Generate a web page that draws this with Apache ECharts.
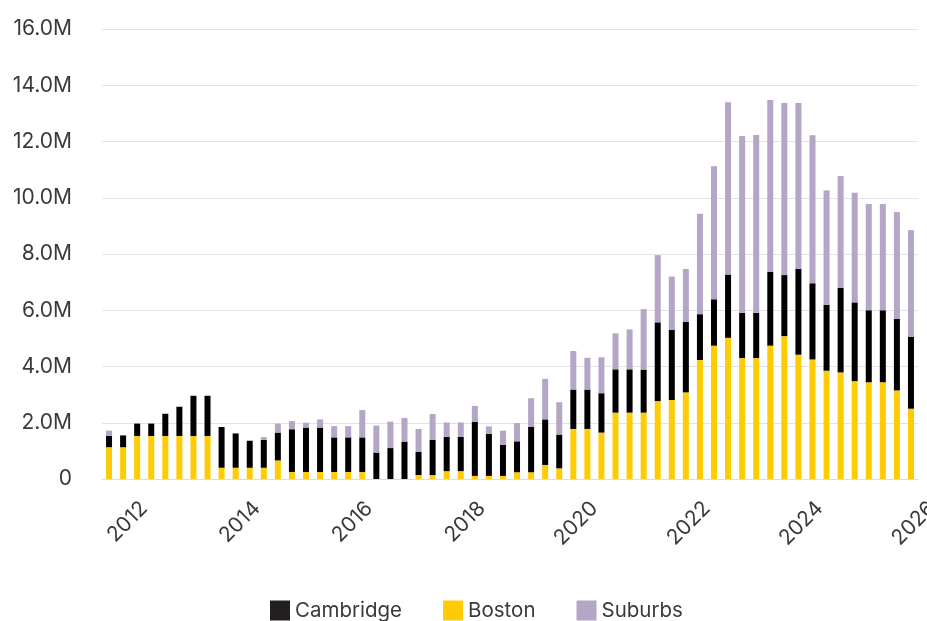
<!DOCTYPE html>
<html>
<head>
<meta charset="utf-8">
<script src="https://cdn.jsdelivr.net/npm/echarts@6/dist/echarts.min.js"></script>
<style>
  html, body { margin: 0; padding: 0; background: #fff; }
  #chart { width: 927px; height: 621px; }
</style>
</head>
<body>
<div id="chart"></div>
<script>
// Quarterly volume (millions) by market, stacked Boston / Cambridge / Suburbs
const quarters = [
  '2011 Q2','2011 Q3','2011 Q4',
  '2012 Q1','2012 Q2','2012 Q3','2012 Q4',
  '2013 Q1','2013 Q2','2013 Q3','2013 Q4',
  '2014 Q1','2014 Q2','2014 Q3','2014 Q4',
  '2015 Q1','2015 Q2','2015 Q3','2015 Q4',
  '2016 Q1','2016 Q2','2016 Q3','2016 Q4',
  '2017 Q1','2017 Q2','2017 Q3','2017 Q4',
  '2018 Q1','2018 Q2','2018 Q3','2018 Q4',
  '2019 Q1','2019 Q2','2019 Q3','2019 Q4',
  '2020 Q1','2020 Q2','2020 Q3','2020 Q4',
  '2021 Q1','2021 Q2','2021 Q3','2021 Q4',
  '2022 Q1','2022 Q2','2022 Q3','2022 Q4',
  '2023 Q1','2023 Q2','2023 Q3','2023 Q4',
  '2024 Q1','2024 Q2','2024 Q3','2024 Q4',
  '2025 Q1','2025 Q2','2025 Q3'
];

const boston = [
  1.13, 1.13, 1.53, 1.53, 1.53, 1.53, 1.53, 1.53, 0.40, 0.40,
  0.40, 0.40, 0.66, 0.25, 0.25, 0.25, 0.25, 0.25, 0.25, 0.00,
  0.00, 0.00, 0.14, 0.14, 0.28, 0.28, 0.11, 0.11, 0.11, 0.24,
  0.24, 0.50, 0.38, 1.78, 1.78, 1.65, 2.36, 2.36, 2.36, 2.77,
  2.81, 3.08, 4.23, 4.74, 5.02, 4.30, 4.30, 4.74, 5.08, 4.42,
  4.25, 3.85, 3.79, 3.48, 3.44, 3.44, 3.15, 2.50
];

const cambridge = [
  0.40, 0.42, 0.44, 0.44, 0.79, 1.04, 1.43, 1.43, 1.45, 1.22,
  0.96, 0.99, 0.99, 1.52, 1.58, 1.58, 1.23, 1.23, 1.23, 0.94,
  1.10, 1.33, 0.83, 1.25, 1.22, 1.22, 1.92, 1.49, 1.11, 1.10,
  1.62, 1.62, 1.20, 1.40, 1.40, 1.40, 1.54, 1.54, 1.53, 2.80,
  2.50, 2.51, 1.63, 1.65, 2.25, 1.61, 1.61, 2.62, 2.17, 3.05,
  2.71, 2.34, 3.00, 2.80, 2.56, 2.56, 2.55, 2.56
];

const suburbs = [
  0.19, 0.00, 0.00, 0.00, 0.00, 0.00, 0.00, 0.00, 0.00, 0.00,
  0.00, 0.10, 0.32, 0.29, 0.17, 0.29, 0.40, 0.40, 0.97, 0.96,
  0.94, 0.84, 0.81, 0.92, 0.51, 0.51, 0.57, 0.27, 0.50, 0.65,
  1.01, 1.44, 1.15, 1.37, 1.13, 1.28, 1.28, 1.42, 2.15, 2.39,
  1.89, 1.88, 3.57, 4.73, 6.13, 6.29, 6.32, 6.12, 6.12, 5.90,
  5.26, 4.07, 3.98, 3.90, 3.78, 3.78, 3.79, 3.79
];

const yearTicks = [2012, 2014, 2016, 2018, 2020, 2022, 2024, 2026];

// Decimal-year span covered by the quarter slots (Apr 2011 .. Oct 2025)
const spanStart = Number(quarters[0].split(' Q')[0]) + (Number(quarters[0].split(' Q')[1]) - 1) / 4;
const spanEnd = spanStart + quarters.length / 4;

const FONT = 'Inter';
const TEXT = '#3a3a3a';
const FS = 21;
const LABEL_MARGIN = 26;

const chart = echarts.init(document.getElementById('chart'));

const option = {
  animation: false,
  textStyle: { fontFamily: FONT },
  grid: { left: 102, right: 9, top: 29, bottom: 142, containLabel: false },
  legend: {
    data: [
      { name: 'Cambridge', itemStyle: { color: '#231f20' } },
      { name: 'Boston', itemStyle: { color: '#ffcb05' } },
      { name: 'Suburbs', itemStyle: { color: '#b5a5c7' } }
    ],
    left: 265,
    top: 595,
    icon: 'rect',
    itemWidth: 20,
    itemHeight: 20,
    itemGap: 41,
    textStyle: { fontFamily: FONT, fontSize: 20.5, color: TEXT }
  },
  xAxis: [
    {
      // quarter slots carrying the bars
      type: 'category',
      data: quarters,
      boundaryGap: true,
      axisTick: { show: false },
      axisLabel: { show: false },
      splitLine: { show: false },
      axisLine: { show: true, lineStyle: { color: '#dcdcdc', width: 1 } }
    },
    {
      // decimal-year scale over the same span, for the year labels
      type: 'value',
      position: 'bottom',
      min: spanStart,
      max: spanEnd,
      splitLine: { show: false },
      axisTick: { show: false },
      axisLine: { show: false },
      axisLabel: {
        customValues: yearTicks.filter(y => y <= spanEnd),
        formatter: v => String(Math.round(v)),
        rotate: 45,
        margin: LABEL_MARGIN,
        fontFamily: FONT,
        fontSize: FS,
        color: TEXT,
        hideOverlap: false
      }
    }
  ],
  yAxis: {
    type: 'value',
    min: 0,
    max: 16,
    interval: 2,
    axisLine: { show: false },
    axisTick: { show: false },
    splitLine: { lineStyle: { color: '#e3e3e3', width: 1 } },
    axisLabel: {
      formatter: v => (v === 0 ? '0' : v.toFixed(1) + 'M'),
      margin: 30,
      fontFamily: FONT,
      fontSize: FS,
      color: TEXT
    }
  },
  series: [
    {
      name: 'Boston', type: 'bar', stack: 'total', barWidth: 6, xAxisIndex: 0,
      itemStyle: { color: '#ffcb05' }, data: boston
    },
    {
      name: 'Cambridge', type: 'bar', stack: 'total', barWidth: 6, xAxisIndex: 0,
      itemStyle: { color: '#000000' }, data: cambridge
    },
    {
      name: 'Suburbs', type: 'bar', stack: 'total', barWidth: 6, xAxisIndex: 0,
      itemStyle: { color: '#b5a5c7' }, data: suburbs
    }
  ]
};

chart.setOption(option);

// Year labels past the axis end are placed through the same year scale
const extra = yearTicks.filter(y => y > spanEnd).map(y => {
  const px = chart.convertToPixel({ xAxisIndex: 1 }, y);
  const py = chart.convertToPixel({ yAxisIndex: 0 }, 0);
  return {
    type: 'text',
    x: px,
    y: py + LABEL_MARGIN,
    rotation: Math.PI / 4,
    style: {
      text: String(y),
      fontFamily: FONT,
      fontSize: FS,
      fill: TEXT,
      align: 'right',
      verticalAlign: 'middle'
    }
  };
});
chart.setOption({ graphic: extra });
</script>
</body>
</html>
